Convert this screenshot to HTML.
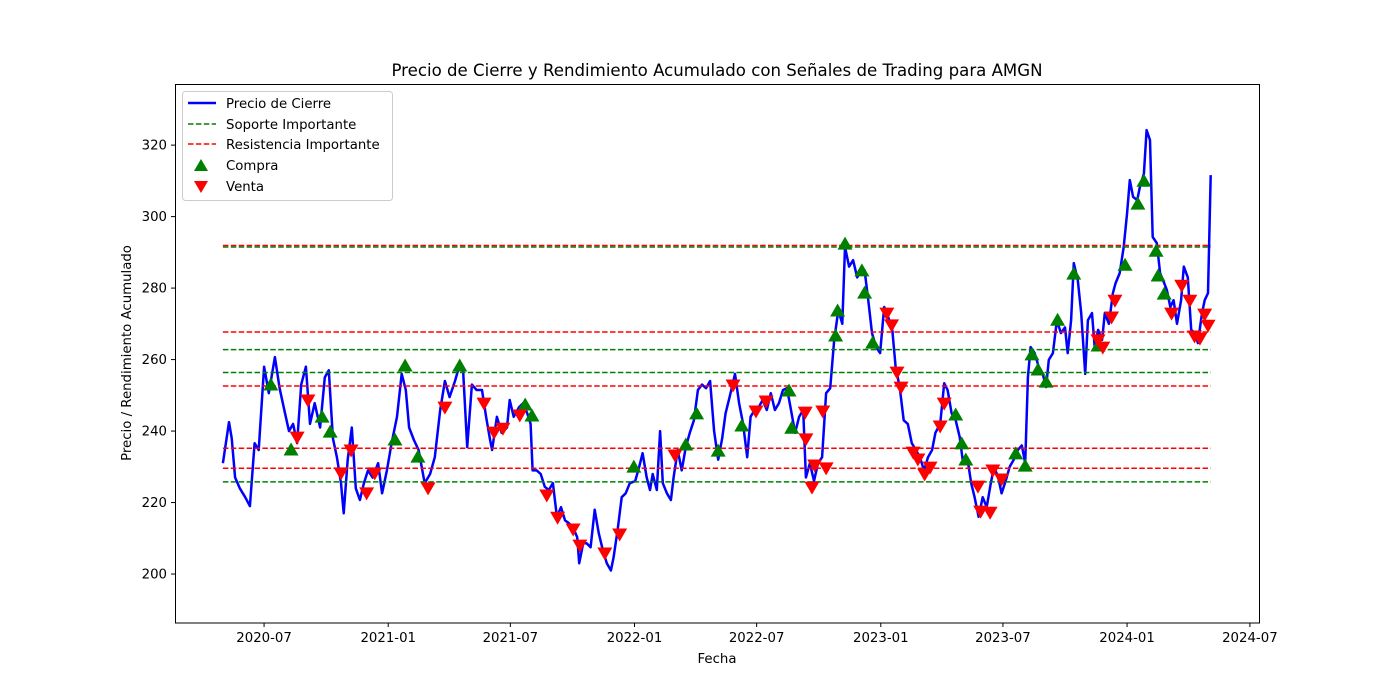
<!DOCTYPE html>
<html><head><meta charset="utf-8"><style>
html,body{margin:0;padding:0;background:#fff;}
svg{display:block;font-family:"DejaVu Sans","Liberation Sans",sans-serif;}
</style></head><body>
<svg id="chart" width="1400" height="700" viewBox="0 0 1400 700" xmlns="http://www.w3.org/2000/svg">
<rect width="1400" height="700" fill="#fff"/>
<text x="717" y="76" text-anchor="middle" font-size="16.6">Precio de Cierre y Rendimiento Acumulado con Señales de Trading para AMGN</text>
<g id="grid"></g>
<g id="plot"></g>
<rect x="175.5" y="84.5" width="1084" height="538.5" fill="none" stroke="#000" stroke-width="1"/>
<g id="axes"></g>
<text x="717" y="663" text-anchor="middle" font-size="13.3">Fecha</text>
<text transform="translate(131,353) rotate(-90)" text-anchor="middle" font-size="13.3">Precio / Rendimiento Acumulado</text>
<g>
<rect x="182.5" y="91.5" width="210" height="109" rx="3" fill="#fff" fill-opacity="0.8" stroke="#ccc"/>
<g><line x1="188" y1="103" x2="216" y2="103" stroke="#0000ff" stroke-width="2.5"/><text x="226" y="108" font-size="13.3">Precio de Cierre</text></g>
<g><line x1="188" y1="124" x2="216" y2="124" stroke="#008000" stroke-width="1.5" stroke-dasharray="5.5,2.4"/><text x="226" y="129" font-size="13.3">Soporte Importante</text></g>
<g><line x1="188" y1="144" x2="216" y2="144" stroke="#ff0000" stroke-width="1.5" stroke-dasharray="5.5,2.4"/><text x="226" y="149" font-size="13.3">Resistencia Importante</text></g>
<g><polygon points="201,159 208,171 194,171" fill="#008000"/><text x="226" y="170" font-size="13.3">Compra</text></g>
<g><polygon points="194,181 208,181 201,193" fill="#ff0000"/><text x="226" y="191" font-size="13.3">Venta</text></g>
</g>
</svg>
<script>
// day offsets since 2020-05-01
const priceDays=[0,9,13,18,25,33,40,47,53,61,68,77,84,92,98,104,110,116,123,129,136,144,151,157,163,169,175,179,185,191,197,203,209,215,222,230,236,243,250,258,265,271,276,283,290,299,307,314,322,329,336,344,350,356,362,369,376,384,390,396,
399,406,413,421,425,431,439,445,451,456,459,465,471,477,483,489,495,501,507,513,519,525,528,534,539,545,551,557,563,569,575,579,585,591,597,603,611,617,622,628,633,637,643,648,652,658,664,668,674,680,686,692,698,704,710,716,722,728,734,740,745,751,759,765,771,777,782,788,794,800,
806,812,818,824,830,836,842,848,854,860,864,870,876,882,888,894,900,906,912,918,922,928,934,940,946,951,957,962,968,974,980,986,992,997,1003,1009,1015,1021,1027,1033,1039,1045,1051,1056,1063,1069,1074,1080,1086,1092,1097,1103,1109,1114,1120,1126,1132,1138,1143,1149,1154,1160,1166,1172,1178,1184,1189,1193,1197,1203,
1209,1215,1220,1224,1230,1236,1242,1248,1252,1257,1261,1267,1272,1278,1282,1288,1292,1297,1303,1307,1313,1319,1323,1329,1335,1340,1344,1349,1355,1359,1365,1369,1374,1378,1384,1389,1395,1399,1404,1409,1414,1420,1424,1430,1435,1441,1445,1451,1455,1460,1464];
const priceValues=[231,242.5,238,227,224,221.5,219,236.6,234.7,258,250.6,260.7,252,245,240,242,236.6,253,258,242,247.8,241,255,257,238,232.7,225.4,217,232,241,224,220.7,225.4,229,227,231,222.6,229,236.6,244,256,251.5,241,237.5,234.7,225.4,228,232.7,245.9,254,249.5,254,258,257,235.5,253,251.5,251.5,244,237.5,
234.7,244,239.5,241,248.7,244,246.7,247.8,245,242,229,229,228,224.4,223.5,225.4,216,218.7,215,214.2,213,210.3,203,208.6,208.6,207.5,218,211.5,206.7,203,201,204.7,212.3,221.5,222.6,225.4,226,230,233.8,227,223.5,228,223.5,240,225.4,222.6,220.7,227,234.7,229,235.5,239.5,243,251.5,253,252,254,240,232,238,245,249.5,256,247.8,242,232.7,244,245.9,246.7,248.7,
245.9,250.6,245.9,247.8,251.5,252,245.9,239.5,244,245.9,227,231,226,231,232.7,250.6,252,265.5,273.8,270,291.5,286,287.8,283,285,285,275.8,267.4,263.5,261.8,274.7,271.9,268.3,258,252.3,243,242,236.6,234.7,232.7,229,232.7,234.7,239.5,242,253.4,251.5,245,243,238.3,231,232.7,225.4,221.5,216,221.5,218.7,225.4,230,227,222.6,226,230,232,234.7,236,231,255,263.5,261.8,
258,256,252.3,259.9,261.8,271,267.4,269,261.8,271,287,282.2,273,256,271,273,263.5,268.3,265.5,273,270,278.6,281.4,284.2,291.5,301,310.2,305.5,304.6,308.3,312,324.2,321.4,294.3,292.6,284.2,281.4,279.4,274.7,276.6,270,276.6,286,283,268.3,267.4,264.6,273,276.6,278.6,311.6];
const supportLevels=[291.5,262.8,256.4,225.8];
const resistanceLevels=[291.9,267.7,252.6,235.2,229.6];
const buyDays=[71,101,147,159,255,270,289,351,448,458,609,686,702,734,769,839,843,908,911,922,947,951,963,1086,1095,1101,1175,1189,1199,1208,1220,1237,1261,1297,1337,1356,1365,1383,1386,1395];
const buyValues=[252.9,234.7,243.9,239.7,237.5,258.2,232.7,258.2,247.3,244.2,229.9,236.1,244.8,234.4,241.4,251.2,240.8,266.6,273.6,292.3,284.8,278.6,264.6,244.5,236.4,231.9,233.6,230.2,261.3,257.1,253.7,271,283.9,263.8,286.4,303.5,309.9,290.3,283.4,278.3];
const sellDays=[110,126,175,190,213,225,304,329,387,402,415,440,480,496,519,529,566,588,670,756,790,805,863,864,873,877,889,894,984,991,999,1005,1023,1030,1040,1048,1063,1069,1119,1123,1137,1141,1154,1297,1304,1317,1322,1406,1421,1433,1440,1448,1455,1460];
const sellValues=[238.3,248.7,228.3,234.7,222.7,228.3,224.1,246.7,247.8,239.7,240.8,244.5,222.1,215.9,212.6,208.1,205.9,211.2,233.3,252.9,245.6,248.4,245.3,237.8,224.3,230.5,245.6,229.7,273,269.7,256.5,252.3,234.1,232.2,228,229.9,241.4,247.8,224.6,217.6,217.3,229.1,226.6,265.5,263.5,271.9,276.6,273,280.8,276.6,266.6,266,272.7,269.6];
const xTickLabels=["2020-07","2021-01","2021-07","2022-01","2022-07","2023-01","2023-07","2024-01","2024-07"];
const yTickValues=[200,220,240,260,280,300,320];

const NS="http://www.w3.org/2000/svg";
const X0=175,X1=1260,Y0=623,Y1=84;
const dMin=-71,dMax=1537,vMin=186.3,vMax=337.1;
const epoch=Date.UTC(2020,4,1);
function xs(d){return X0+(d-dMin)/(dMax-dMin)*(X1-X0);}
function ys(v){return Y0-(v-vMin)/(vMax-vMin)*(Y0-Y1);}
function mk(tag,attrs,parent){const e=document.createElementNS(NS,tag);for(const k in attrs)e.setAttribute(k,attrs[k]);parent.appendChild(e);return e;}
const plot=document.getElementById('plot'),axes=document.getElementById('axes');

let dstr=priceDays.map((d,i)=>(i?'L':'M')+xs(d).toFixed(1)+','+ys(priceValues[i]).toFixed(1)).join('');
const line=mk('path',{d:dstr,fill:'none',stroke:'#0000ff','stroke-width':2.5,'stroke-linejoin':'round'},plot);



const xa=xs(priceDays[0]),xb=xs(priceDays[priceDays.length-1]);
supportLevels.forEach((v,i)=>{
  const l=mk('line',{x1:xa,x2:xb,y1:ys(v),y2:ys(v),stroke:'#008000','stroke-width':1.5,'stroke-dasharray':'5.5,2.4'},plot);
  
  
});
resistanceLevels.forEach((v,i)=>{
  const l=mk('line',{x1:xa,x2:xb,y1:ys(v),y2:ys(v),stroke:'#ff0000','stroke-width':1.5,'stroke-dasharray':'5.5,2.4'},plot);
  
  
});
buyDays.forEach((d,i)=>{
  const x=xs(d),y=ys(buyValues[i]);
  const p=mk('polygon',{points:`${x},${y-7.5} ${x+7.5},${y+5.5} ${x-7.5},${y+5.5}`,fill:'#008000'},plot);
  
  
});
sellDays.forEach((d,i)=>{
  const x=xs(d),y=ys(sellValues[i]);
  const p=mk('polygon',{points:`${x-7.5},${y-5.5} ${x+7.5},${y-5.5} ${x},${y+7.5}`,fill:'#ff0000'},plot);
  
  
});
xTickLabels.forEach(lbl=>{
  const [yy,mm]=lbl.split('-').map(Number);
  const d=(Date.UTC(yy,mm-1,1)-epoch)/86400000;
  const x=xs(d);
  mk('line',{x1:x,x2:x,y1:Y0,y2:Y0+4,stroke:'#000'},axes);
  const t=mk('text',{x:x,y:Y0+19,'text-anchor':'middle','font-size':13.3},axes);
  t.textContent=lbl;
  
  
});
yTickValues.forEach(v=>{
  const y=ys(v);
  mk('line',{x1:X0-4,x2:X0,y1:y,y2:y,stroke:'#000'},axes);
  const t=mk('text',{x:X0-8,y:y+4.5,'text-anchor':'end','font-size':13.3},axes);
  t.textContent=v;
  
  
});
</script>
</body></html>
